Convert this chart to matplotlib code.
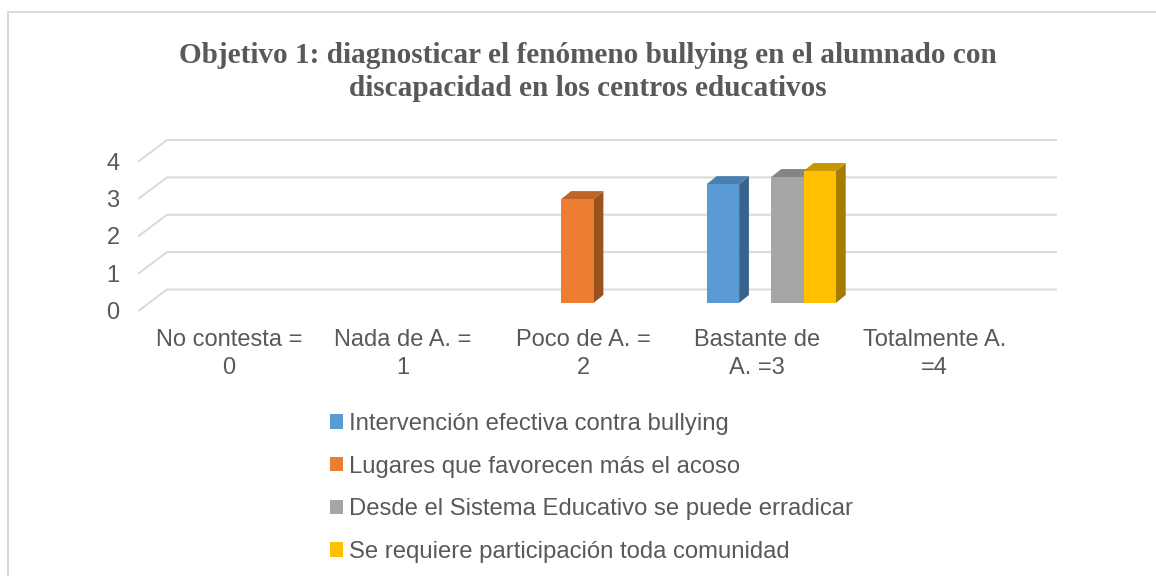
import matplotlib
matplotlib.use("Agg")
import matplotlib.pyplot as plt
from matplotlib.patches import Patch, Polygon, Rectangle

title = "Objetivo 1: diagnosticar el fenómeno bullying en el alumnado con\ndiscapacidad en los centros educativos"
categories = ["No contesta =\n0", "Nada de A. =\n1", "Poco de A. =\n2", "Bastante de\nA. =3", "Totalmente A.\n=4"]
series_names = ["Intervención efectiva contra bullying", "Lugares que favorecen más el acoso",
                "Desde el Sistema Educativo se puede erradicar", "Se requiere participación toda comunidad"]
blue = [0, 0, 0, 3.18, 0]
orange = [0, 0, 2.78, 0, 0]
grey = [0, 0, 0, 3.37, 0]
yellow = [0, 0, 0, 3.53, 0]
values = [blue, orange, grey, yellow]
front = ["#5B9BD5", "#ED7D31", "#A5A5A5", "#FFC000"]
side = ["#38648C", "#9A521F", "#6E6E6E", "#A67C00"]
top = ["#4A7FB0", "#BE6428", "#858585", "#C79600"]
yticks = [0, 1, 2, 3, 4]
label_positions = [0.005, 0.985, 2.0, 2.975, 3.975]

W, H = 1156, 576
TXT = "#595959"
GRID = "#D9D9D9"
fig = plt.figure(figsize=(W/100, H/100), dpi=100, facecolor="white")
fig.add_artist(Rectangle((8/W, -0.01), 1.2, 1 - 12/H + 0.01, transform=fig.transFigure,
                         fc="none", ec=GRID, lw=1.4))
# front plane of the pseudo-3D box
x0, x1, y0, y4 = 139, 1028, 310.5, 161
ax = fig.add_axes([x0/W, 1 - y0/H, (x1 - x0)/W, (y0 - y4)/H])
ax.set_xlim(-0.5, 4.5)
ax.set_ylim(0, 4)
ax.patch.set_visible(False)
for s in ax.spines.values():
    s.set_visible(False)

DX = 28 / ((x1 - x0) / 5)      # depth offset in category units
DY = 21 / ((y0 - y4) / 4)      # depth offset in value units
F1, F2 = 0.36, 0.71            # bar front/back, as a share of the depth

for v in yticks:
    ax.plot([-0.5, -0.5 + DX, 4.5 + DX], [v, v + DY, v + DY], color=GRID, lw=1.4,
            clip_on=False, solid_joinstyle="round", zorder=1)

BW = 0.1815
for i, vals in enumerate(values):
    off = (i - 1.5) * BW + F1 * DX
    for k, v in enumerate(vals):
        if v <= 0:
            continue
        xa, xb = k + off - BW/2, k + off + BW/2
        b = F1 * DY
        ddx, ddy = (F2 - F1) * DX, (F2 - F1) * DY * 1.08
        ax.add_patch(Polygon([(xb, b), (xb + ddx, b + ddy), (xb + ddx, b + v + ddy), (xb, b + v)],
                             fc=side[i], ec="none", clip_on=False, zorder=2 + i))
        ax.add_patch(Polygon([(xa, b + v), (xa + ddx, b + v + ddy), (xb + ddx, b + v + ddy), (xb, b + v)],
                             fc=top[i], ec="none", clip_on=False, zorder=2 + i))
        ax.bar(k + off, v, BW, bottom=b, color=front[i], clip_on=False, zorder=2.5 + i)

ax.set_yticks(yticks)
ax.set_xticks(label_positions)
ax.set_xticklabels(categories, linespacing=1.32)
ax.tick_params(axis="both", length=0, labelsize=17, labelcolor=TXT, labelfontfamily="Liberation Sans")
ax.tick_params(axis="y", pad=14)
ax.tick_params(axis="x", pad=13.5)

fig.text(588/W, 1 - 72/H, title, ha="center", va="center", family="Liberation Serif",
         weight="bold", fontsize=21.1, color=TXT, linespacing=1.26)

handles = [Patch(fc=c, ec="none") for c in front]
leg = fig.legend(handles, series_names, loc="upper left", bbox_to_anchor=(330/W, 1 - 413/H),
                 frameon=False, prop={"family": "Liberation Sans", "size": 17.2}, labelcolor=TXT,
                 borderpad=0, borderaxespad=0, handlelength=0.54, handleheight=0.54,
                 handletextpad=0.25, labelspacing=0.865)
fig.savefig("out.png", dpi=100, facecolor="white")
